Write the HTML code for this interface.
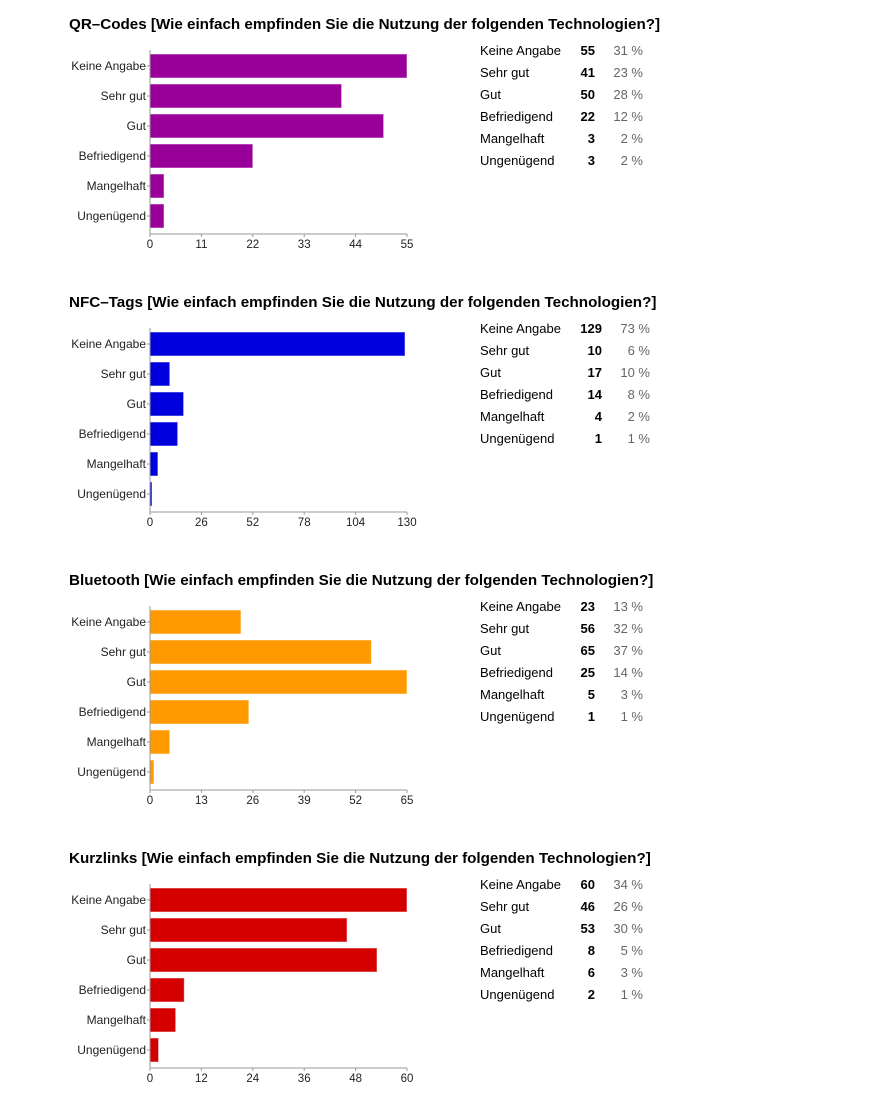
<!DOCTYPE html>
<html><head><meta charset="utf-8"><style>
body{margin:0;background:#fff;font-family:"Liberation Sans",sans-serif;}
svg{display:block}
</style></head><body>
<svg id="s" width="883" height="1103"></svg>
<script>
const categories=["Keine Angabe","Sehr gut","Gut","Befriedigend","Mangelhaft","Ungenügend"];
const titles=["QR–Codes [Wie einfach empfinden Sie die Nutzung der folgenden Technologien?]","NFC–Tags [Wie einfach empfinden Sie die Nutzung der folgenden Technologien?]","Bluetooth [Wie einfach empfinden Sie die Nutzung der folgenden Technologien?]","Kurzlinks [Wie einfach empfinden Sie die Nutzung der folgenden Technologien?]"];
const qrValues=[55,41,50,22,3,3];
const nfcValues=[129,10,17,14,4,1];
const btValues=[23,56,65,25,5,1];
const klValues=[60,46,53,8,6,2];
const qrPct=["31 %","23 %","28 %","12 %","2 %","2 %"];
const nfcPct=["73 %","6 %","10 %","8 %","2 %","1 %"];
const btPct=["13 %","32 %","37 %","14 %","3 %","1 %"];
const klPct=["34 %","26 %","30 %","5 %","3 %","1 %"];
const axisMax=[55,130,65,60];
const colors=["#990099","#0000dd","#ff9900","#d40000"];
const allValues=[qrValues,nfcValues,btValues,klValues];
const allPct=[qrPct,nfcPct,btPct,klPct];
const countRight=[595,602,595,595];
const pctRight=[643,650,643,643];
const NS="http://www.w3.org/2000/svg";
const svg=document.getElementById('s');
function mk(tag,attrs,parent,text){const e=document.createElementNS(NS,tag);for(const k in attrs)e.setAttribute(k,attrs[k]);if(text!==undefined)e.textContent=text;parent.appendChild(e);return e;}
const x0=150,x1=407;
allValues.forEach((vals,c)=>{
  const oy=c*278;
  const g=mk('g',{},svg);
  
  
  const t=mk('text',{x:69,y:oy+29,'font-size':15.2,'font-weight':'bold',fill:'#000'},g,titles[c]);
  
  
  const xs=v=>x0+v/axisMax[c]*(x1-x0);
  const ys=i=>oy+66+i*30;
  vals.forEach((v,i)=>{
    const r=mk('rect',{x:x0,y:ys(i)-12,width:Math.max(xs(v)-x0,1),height:24,fill:colors[c],stroke:'#fff','stroke-opacity':0.5,'stroke-width':1},g);
    
    
    const l=mk('text',{x:x0-4,y:ys(i)+4,'font-size':12,'text-anchor':'end',fill:'#222'},g,categories[i]);
    
    
    mk('line',{x1:x0-3,x2:x0,y1:ys(i),y2:ys(i),stroke:'#999'},g);
    const ty=oy+50+i*22;
    const a=mk('text',{x:480,y:ty+5,'font-size':13,fill:'#000'},g,categories[i]);
    
    
    const b=mk('text',{x:countRight[c],y:ty+5,'font-size':13,'font-weight':'bold','text-anchor':'end',fill:'#000'},g,String(v));
    
    
    const p=mk('text',{x:pctRight[c],y:ty+5,'font-size':13,'text-anchor':'end',fill:'#666'},g,allPct[c][i]);
    
    
  });
  const ax=mk('line',{x1:x0,x2:x0,y1:oy+50,y2:oy+234,stroke:'#999'},g);
  
  
  const bx=mk('line',{x1:x0,x2:x1,y1:oy+234,y2:oy+234,stroke:'#999'},g);
  
  
  for(let k=0;k<=5;k++){
    const v=axisMax[c]/5*k;
    mk('line',{x1:xs(v),x2:xs(v),y1:oy+234,y2:oy+237,stroke:'#999'},g);
    const tl=mk('text',{x:xs(v),y:oy+248,'font-size':11.5,'text-anchor':'middle',fill:'#222'},g,String(v));
    
    
  }
});
</script>
</body></html>
